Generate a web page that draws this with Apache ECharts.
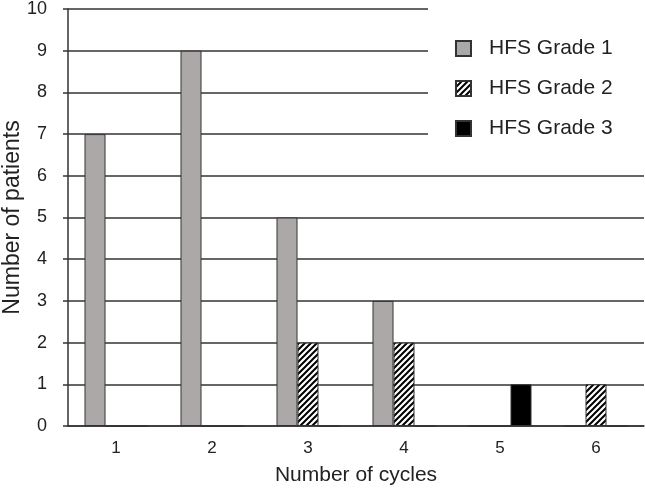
<!DOCTYPE html>
<html>
<head>
<meta charset="utf-8">
<script src="https://cdn.jsdelivr.net/npm/echarts@6/dist/echarts.min.js"></script>
<style>
html,body{margin:0;padding:0;background:#fff;}
#chart{width:645px;height:488px;}
</style>
</head>
<body>
<div id="chart"></div>
<script>
var categories = ['1', '2', '3', '4', '5', '6'];
var grade1 = [7, 9, 5, 3, 0, 0];
var grade2 = [0, 0, 2, 2, 0, 1];
var grade3 = [0, 0, 0, 0, 1, 0];
var seriesNames = ['HFS Grade 1', 'HFS Grade 2', 'HFS Grade 3'];

function hatch() {
  var s = 6;
  var c = document.createElement('canvas');
  c.width = s; c.height = s;
  var g = c.getContext('2d');
  g.fillStyle = '#fff';
  g.fillRect(0, 0, s, s);
  g.strokeStyle = '#000';
  g.lineWidth = 2;
  g.beginPath();
  g.moveTo(-1, s + 1); g.lineTo(s + 1, -1);
  g.moveTo(-1, 1); g.lineTo(1, -1);
  g.moveTo(s - 1, s + 1); g.lineTo(s + 1, s - 1);
  g.stroke();
  return c;
}

var FONT = 'Liberation Sans, Arial, sans-serif';
var chart = echarts.init(document.getElementById('chart'));
var border = { borderColor: '#333', borderWidth: 1 };
chart.setOption({
  animation: false,
  backgroundColor: '#fff',
  grid: { left: 68, right: 1, top: 9, bottom: 62, outerBoundsMode: 'none', containLabel: false },
  legend: {
    orient: 'vertical',
    left: 428, top: 0,
    backgroundColor: '#fff',
    padding: [38, 33, 12, 27],
    itemWidth: 15, itemHeight: 15, itemGap: 19,
    icon: 'rect',
    textStyle: { fontSize: 21, lineHeight: 21, color: '#222', fontFamily: FONT, padding: [0, 0, 0, 13] },
    data: seriesNames
  },
  xAxis: {
    type: 'category',
    data: categories,
    axisLine: { lineStyle: { color: '#333', width: 1.5 } },
    axisTick: { show: false },
    axisLabel: { fontSize: 17, color: '#222', fontFamily: FONT, margin: 14 },
    name: 'Number of cycles',
    nameLocation: 'middle',
    nameGap: 39,
    nameMoveOverlap: false,
    nameTextStyle: { fontSize: 21, color: '#222', fontFamily: FONT }
  },
  yAxis: {
    type: 'value',
    min: 0, max: 10, interval: 1,
    axisLine: { show: true, lineStyle: { color: '#333', width: 1.5 } },
    axisTick: { show: true, length: 5, lineStyle: { color: '#333', width: 1.5 } },
    splitLine: { lineStyle: { color: '#333', width: 1.5 } },
    axisLabel: { fontSize: 18, color: '#222', fontFamily: FONT, margin: 21 },
    name: 'Number of patients',
    nameLocation: 'middle',
    nameRotate: 90,
    nameGap: 44,
    nameMoveOverlap: false,
    nameTextStyle: { fontSize: 23, color: '#222', fontFamily: FONT }
  },
  series: [
    { name: seriesNames[0], type: 'bar', data: grade1, barWidth: 21, barGap: '0%',
      itemStyle: Object.assign({ color: '#aca8a8' }, border) },
    { name: seriesNames[1], type: 'bar', data: grade2, barWidth: 21, barGap: '0%',
      itemStyle: Object.assign({ color: { image: hatch(), repeat: 'repeat' } }, border) },
    { name: seriesNames[2], type: 'bar', data: grade3, barWidth: 21, barGap: '0%',
      itemStyle: Object.assign({ color: '#000' }, border) }
  ]
});
</script>
</body>
</html>
